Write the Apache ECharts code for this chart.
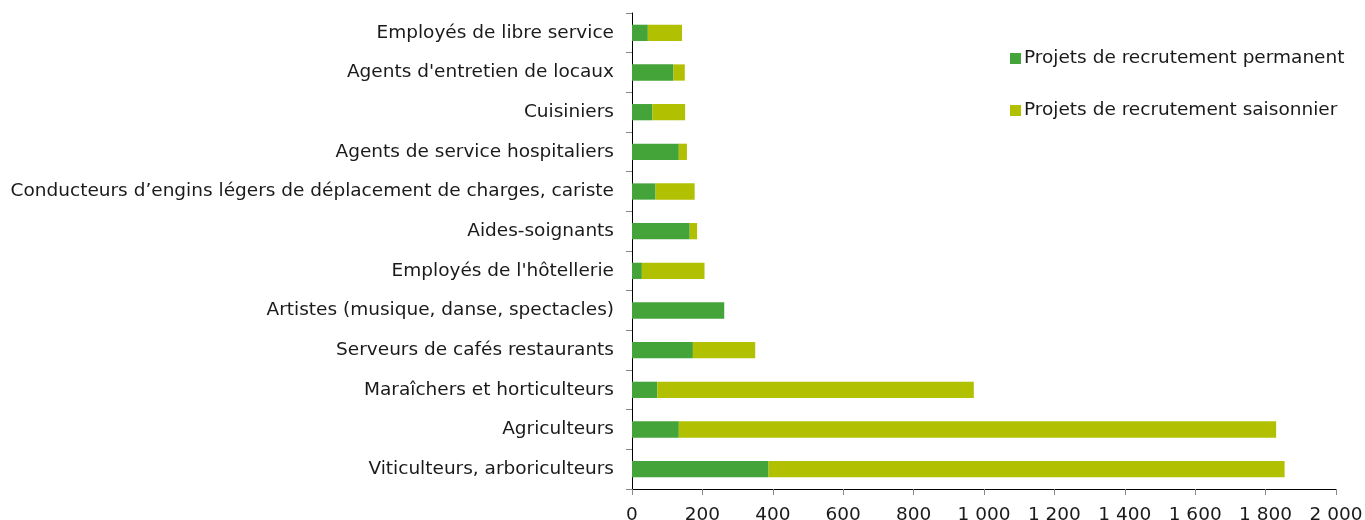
<!DOCTYPE html>
<html>
<head>
<meta charset="utf-8">
<script src="https://cdn.jsdelivr.net/npm/echarts@6/dist/echarts.min.js"></script>
<style>
  html, body { margin: 0; padding: 0; background: #fff; }
  #chart { width: 1365px; height: 520px; }
</style>
</head>
<body>
<div id="chart"></div>
<script>
// categories, bottom to top
const metiers = [
  'Viticulteurs, arboriculteurs',
  'Agriculteurs',
  'Maraîchers et horticulteurs',
  'Serveurs de cafés restaurants',
  'Artistes (musique, danse, spectacles)',
  "Employés de l'hôtellerie",
  'Aides-soignants',
  'Conducteurs d’engins légers de déplacement de charges, cariste',
  'Agents de service hospitaliers',
  'Cuisiniers',
  "Agents d'entretien de locaux",
  'Employés de libre service'
];
const permanent = [388, 133, 72, 173, 262, 28, 164, 67, 133, 58, 118, 45];
const saisonnier = [1466, 1697, 899, 177, 0, 178, 21, 111, 23, 93, 32, 97];
const seriesNames = ['Projets de recrutement permanent', 'Projets de recrutement saisonnier'];

const chart = echarts.init(document.getElementById('chart'));
const font = "'DejaVu Sans', Verdana, sans-serif";

const fmt = v => String(v).replace(/\B(?=(\d{3})+(?!\d))/g, ' ');

chart.setOption({
  animation: false,
  textStyle: { fontFamily: font },
  legend: {
    orient: 'vertical',
    left: 1005,
    top: 44,
    itemWidth: 11,
    itemHeight: 11,
    itemGap: 33,
    icon: 'rect',
    textStyle: { fontSize: 18.5, color: '#1a1a1a', fontFamily: font, padding: [0, 0, 0, -2] },
    data: seriesNames
  },
  grid: { left: 632, right: 29, top: 13, bottom: 31, containLabel: false, outerBoundsMode: 'none' },
  xAxis: {
    type: 'value',
    min: 0,
    max: 2000,
    interval: 200,
    splitLine: { show: false },
    axisLine: { show: true, lineStyle: { color: '#000', width: 1 } },
    axisTick: { show: true, length: 6, lineStyle: { color: '#888' } },
    axisLabel: { fontSize: 18.5, color: '#1a1a1a', margin: 17, fontFamily: font, formatter: fmt }
  },
  yAxis: {
    type: 'category',
    data: metiers,
    axisLine: { show: true, lineStyle: { color: '#000', width: 1 } },
    axisTick: { show: true, length: 6, lineStyle: { color: '#888' } },
    axisLabel: { fontSize: 18.5, color: '#1a1a1a', margin: 18, fontFamily: font, padding: [3, 0, 0, 0] }
  },
  series: [
    {
      name: seriesNames[0],
      type: 'bar',
      stack: 'total',
      barWidth: '41%',
      itemStyle: { color: '#44a339' },
      data: permanent
    },
    {
      name: seriesNames[1],
      type: 'bar',
      stack: 'total',
      barWidth: '41%',
      itemStyle: { color: '#b1c000' },
      data: saisonnier
    }
  ]
});
</script>
</body>
</html>
